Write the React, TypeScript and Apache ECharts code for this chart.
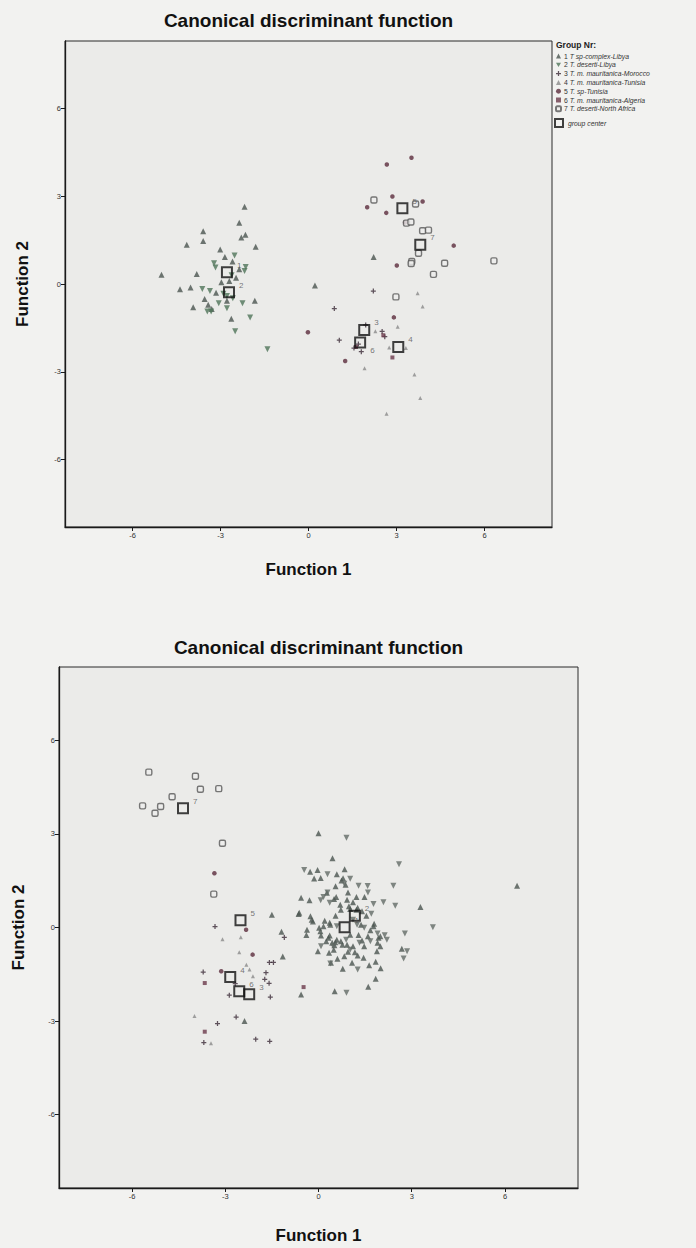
import React, { useEffect, useRef } from "react";
import * as echarts from "echarts";

// ---------- texts ----------
const TITLE = "Canonical discriminant function";
const X_NAME = "Function 1";
const Y_NAME = "Function 2";
const LEGEND_TITLE = "Group Nr:";
const GROUP_NAMES = [
  "1 T sp-complex-Libya",
  "2 T. deserti-Libya",
  "3 T. m. mauritanica-Morocco",
  "4 T. m. mauritanica-Tunisia",
  "5 T. sp-Tunisia",
  "6 T. m. mauritanica-Algeria",
  "7 T. deserti-North Africa",
];
const CENTER_NAME = "group center";
const CENTER_LABELS = ["1", "2", "3", "4", "5", "6", "7"];
const TICKS = [-6, -3, 0, 3, 6];

// ---------- top chart data ----------
const TOP_G1 = [
  [-2.18, 2.64], [-2.36, 2.09], [-3.59, 1.8], [-3.59, 1.47], [-4.15, 1.34], [-2.15, 1.68],
  [-2.29, 1.59], [-1.8, 1.27], [-3.01, 1.18], [-2.85, 0.92], [-2.59, 0.77], [-5.01, 0.32],
  [-3.81, 0.34], [-2.36, 0.5], [-2.97, 0.06], [-2.47, 0.21], [-4.38, -0.18], [-4.02, -0.12],
  [-3.15, -0.3], [-3.54, -0.51], [-3.93, -0.79], [-3.42, -0.71], [-2.78, -0.57], [-1.83, -0.57],
  [-2.63, -1.19], [0.22, -0.05], [2.22, 0.92], [-2.7, 0.1], [-3.3, -0.85],
];
const TOP_G2 = [
  [-3.22, 0.71], [-3.17, 0.56], [-2.52, 0.97], [-2.14, 0.58], [-2.18, 0.44], [-3.62, -0.17],
  [-3.36, -0.24], [-3.06, -0.66], [-2.78, -0.83], [-3.32, -0.94], [-3.45, -0.94], [-2.58, -0.49],
  [-2.25, -0.66], [-1.99, -1.14], [-2.5, -1.61], [-1.4, -2.23], [-2.9, -0.33], [-2.78, -0.41],
  [-2.62, 0.3],
];
const TOP_G3 = [
  [0.88, -0.84], [2.21, -0.24], [1.05, -1.92], [1.55, -2.19], [1.8, -2.31], [2.51, -1.62],
  [2.6, -1.8], [1.95, -1.4], [1.7, -2.05],
];
const TOP_G4 = [
  [2.28, -1.61], [3.04, -1.46], [3.32, -2.19], [2.75, -2.17], [3.72, -0.32], [3.89, -0.77],
  [3.61, -3.09], [3.81, -3.89], [2.66, -4.43], [1.91, -2.88],
];
const TOP_G5 = [
  [2.67, 4.08], [3.51, 4.31], [2.86, 2.99], [2.0, 2.62], [2.65, 2.43], [3.89, 2.82],
  [4.95, 1.31], [3.01, 0.63], [2.91, -1.14], [-0.02, -1.65], [1.25, -2.63], [3.29, 2.1],
];
const TOP_G6 = [[2.86, -2.51], [1.62, -2.15], [2.55, -1.75]];
const TOP_G7 = [
  [2.23, 2.87], [3.65, 2.73], [3.34, 2.08], [3.49, 2.12], [3.89, 1.82], [4.09, 1.84],
  [3.75, 1.05], [3.52, 0.77], [3.5, 0.7], [4.64, 0.71], [4.26, 0.33], [6.32, 0.79], [2.98, -0.44],
];
const TOP_CENTERS = [
  [-2.78, 0.4], [-2.71, -0.28], [1.9, -1.57], [3.06, -2.15], [3.2, 2.59], [1.76, -2.0], [3.81, 1.34],
];

// ---------- bottom chart data ----------
const BOT_G1 = [
  [0.0, 3.02], [0.45, 2.22], [0.84, 1.87], [-0.27, 1.79], [-0.03, 1.84], [-0.14, 1.57],
  [0.07, 1.59], [0.59, 1.71], [0.79, 1.58], [0.95, 1.12], [-0.56, 0.95], [-0.29, 0.87],
  [0.5, 0.91], [1.22, 0.98], [1.48, 0.98], [-0.64, 0.43], [3.28, 0.66], [-1.19, -0.14],
  [-0.39, -0.24], [-1.15, -0.93], [0.34, -0.81], [0.61, -1.0], [0.95, -0.78], [1.26, -0.9],
  [0.4, -1.13], [0.78, -1.32], [1.63, -1.21], [1.84, -1.1], [2.0, -1.31], [1.84, -1.64],
  [1.6, -1.9], [0.52, -2.04], [-0.56, -2.15], [1.29, -0.24], [1.4, -0.42], [1.59, -0.28],
  [1.93, -0.33], [2.68, -0.68], [0.2, 0.22], [0.38, 0.09], [-0.37, -0.07], [0.06, -0.12],
  [1.02, 0.59], [1.26, 0.63], [0.77, -0.55], [1.02, -0.23], [0.59, -0.39], [0.44, -0.49],
  [1.11, 0.81], [0.7, 0.73], [0.87, 1.37], [1.54, 0.38], [1.77, 0.04], [1.9, -0.49],
  [-0.02, -0.76], [-0.22, 0.25], [0.32, -0.33], [0.51, -0.57], [0.27, 1.11], [0.57, 0.98],
  [0.92, 0.89], [0.72, 0.57], [0.55, 0.38], [0.36, 0.15], [0.16, 0.04], [0.08, -0.26],
  [0.36, -0.26], [0.54, -0.47], [0.72, -0.44], [0.92, -0.55], [1.11, -0.6], [1.47, -0.6],
  [1.37, 0.09], [1.67, -0.09], [1.79, 0.12], [1.99, -0.28], [1.22, 0.57], [1.4, 0.52],
  [0.55, 1.32], [0.74, 1.51], [0.98, 0.68], [-0.26, 0.36], [-0.18, 0.19], [0.02, -0.01],
  [0.25, -0.44], [0.49, -0.71], [0.83, -0.92], [1.17, -0.79], [1.45, -0.97], [1.99, -0.6],
  [1.88, -0.76], [1.08, -1.13], [-1.5, 0.41], [-0.62, 0.47], [-2.38, -3.0], [6.39, 1.34],
];
const BOT_G2 = [
  [0.9, 2.88], [2.59, 2.03], [-0.46, 1.84], [0.29, 1.71], [1.02, 1.56], [1.29, 1.34],
  [1.58, 1.33], [1.59, 1.12], [2.41, 1.34], [0.07, 0.87], [1.77, 0.75], [2.47, 0.7],
  [2.09, 0.81], [1.7, 0.44], [3.68, 0.01], [2.78, -0.19], [2.13, -0.25], [0.9, -2.09],
  [2.85, -0.76], [0.29, 1.12], [1.24, 0.09], [1.47, -0.01], [0.47, -0.6], [0.83, 1.4],
  [0.16, 0.98], [0.36, 0.79], [1.11, 0.25], [0.59, 0.04], [0.89, -0.39], [1.32, -0.49],
  [0.08, -0.6], [1.67, -0.44], [1.9, -0.19], [2.2, -0.39], [1.02, -0.71], [0.38, -1.15],
  [1.26, -1.35], [2.74, -0.99],
];
const BOT_G3 = [
  [-3.33, 0.03], [-1.1, -0.32], [-1.58, -1.12], [-1.45, -1.12], [-3.71, -1.43], [-1.69, -1.45],
  [-1.73, -1.66], [-1.59, -1.79], [-2.87, -2.17], [-1.55, -2.23], [-2.65, -2.87], [-3.25, -3.08],
  [-2.02, -3.58], [-1.57, -3.65], [-3.69, -3.69], [-2.68, -1.8],
];
const BOT_G4 = [
  [-3.09, -0.38], [-2.5, -0.31], [-2.55, -0.79], [-2.32, -1.19], [-2.22, -1.35], [-2.11, -1.56],
  [-3.99, -2.84], [-3.46, -3.71],
];
const BOT_G5 = [[-3.35, 1.74], [-2.33, -0.07], [-3.13, -1.4], [-2.12, -0.87]];
const BOT_G6 = [[-3.66, -1.78], [-3.66, -3.34], [-0.48, -1.91]];
const BOT_G7 = [
  [-5.46, 4.98], [-3.96, 4.85], [-3.8, 4.43], [-3.21, 4.45], [-4.71, 4.19], [-5.66, 3.9],
  [-5.08, 3.88], [-5.26, 3.66], [-3.09, 2.7], [-3.37, 1.07],
];
const BOT_CENTERS = [
  [0.84, 0.01], [1.17, 0.38], [-2.23, -2.14], [-2.84, -1.59], [-2.51, 0.23], [-2.55, -2.04], [-4.36, 3.82],
];

const TOP_GROUPS = [TOP_G1, TOP_G2, TOP_G3, TOP_G4, TOP_G5, TOP_G6, TOP_G7];
const BOT_GROUPS = [BOT_G1, BOT_G2, BOT_G3, BOT_G4, BOT_G5, BOT_G6, BOT_G7];

// ---------- styles ----------
const FONT = "'Liberation Sans', Arial, Helvetica, sans-serif";
const PLUS = "path://M3,0H5V3H8V5H5V8H3V5H0V3H3Z";
const DOWN_TRI = "path://M0,0L10,0L5,8.7Z";
const STYLES = [
  { symbol: "triangle", size: 6, color: "#4b5550" },
  { symbol: DOWN_TRI, size: 6, color: "#4f7459" },
  { symbol: PLUS, size: 5, color: "#3b2a37" },
  { symbol: "triangle", size: 4, color: "#8a8a8a" },
  { symbol: "circle", size: 4.5, color: "#5b2c3c" },
  { symbol: "rect", size: 4, color: "#6c3a4b" },
  { symbol: "roundRect", size: 6, color: "#eeeeec", border: "#575757" },
];

const PAGE_BG = "#f2f2f0";
const PLOT_BG = "#ebebe9";

const GRIDS = [
  { left: 65, top: 41, width: 487, height: 486, range: 8.3, nameGapX: 34, nameGapY: 34.5 },
  { left: 59, top: 667, width: 519, height: 521, range: 8.35, nameGapX: 38.5, nameGapY: 32.5 },
];

function buildOption() {
  const grid = GRIDS.map((g) => ({
    left: g.left,
    top: g.top,
    width: g.width,
    height: g.height,
    show: true,
    backgroundColor: PLOT_BG,
    borderColor: "#2a2a2a",
    borderWidth: 1,
  }));
  const axisCommon = (g: any, isX: boolean, i: number) => ({
    type: "value",
    gridIndex: i,
    min: -g.range,
    max: g.range,
    splitLine: { show: false },
    axisLine: { show: true, onZero: false, lineStyle: { color: "#1a1a1a", width: 1.3 } },
    axisTick: { show: true, customValues: TICKS, length: 4, lineStyle: { color: "#1a1a1a", width: 1 } },
    axisLabel: { customValues: TICKS, fontSize: 7.5, color: "#333", fontFamily: FONT, margin: 4 },
    name: isX ? X_NAME : Y_NAME,
    nameLocation: "middle",
    nameGap: isX ? g.nameGapX : g.nameGapY,
    nameRotate: isX ? 0 : 90,
    nameTextStyle: { fontSize: 17, fontWeight: "bold", color: "#111", fontFamily: FONT },
  });
  const xAxis = GRIDS.map((g, i) => axisCommon(g, true, i));
  const yAxis = GRIDS.map((g, i) => axisCommon(g, false, i));

  const series: any[] = [];
  [TOP_GROUPS, BOT_GROUPS].forEach((groups, ci) => {
    groups.forEach((data, gi) => {
      const st: any = STYLES[gi];
      let color = st.color;
      if (ci === 1 && gi === 1) color = "#636b66";
      series.push({
        type: "scatter",
        name: GROUP_NAMES[gi],
        xAxisIndex: ci,
        yAxisIndex: ci,
        symbol: st.symbol,
        symbolSize: st.size,
        itemStyle: st.border
          ? { color: st.color, borderColor: st.border, borderWidth: 1.4 }
          : { color },
        data,
        z: 2,
      });
    });
    const centers = ci === 0 ? TOP_CENTERS : BOT_CENTERS;
    series.push({
      type: "scatter",
      name: CENTER_NAME,
      xAxisIndex: ci,
      yAxisIndex: ci,
      symbol: "rect",
      symbolSize: 10,
      z: 5,
      itemStyle: { color: "rgba(0,0,0,0)", borderColor: "#111", borderWidth: 2 },
      label: {
        show: true,
        position: "right",
        offset: [-1, -7],
        fontSize: 8,
        color: "#555",
        fontFamily: FONT,
        formatter: (p: any) => CENTER_LABELS[p.dataIndex],
      },
      data: centers.map((v, i) =>
        ci === 0 && i === 5 ? { value: v, label: { offset: [-1, 8] } } : v
      ),
    });
  });

  const graphic = [
    {
      type: "text",
      x: GRIDS[0].left + GRIDS[0].width / 2,
      y: 20,
      style: { text: TITLE, font: `bold 19px ${FONT}`, fill: "#111", textAlign: "center", textVerticalAlign: "middle" },
    },
    {
      type: "text",
      x: GRIDS[1].left + GRIDS[1].width / 2,
      y: 647,
      style: { text: TITLE, font: `bold 19px ${FONT}`, fill: "#111", textAlign: "center", textVerticalAlign: "middle" },
    },
    {
      type: "text",
      x: 556,
      y: 45,
      style: { text: LEGEND_TITLE, font: `bold 8.5px ${FONT}`, fill: "#222", textAlign: "left", textVerticalAlign: "middle" },
    },
  ];

  return {
    animation: false,
    backgroundColor: PAGE_BG,
    textStyle: { fontFamily: FONT },
    grid,
    xAxis,
    yAxis,
    graphic,
    legend: [
      {
        orient: "vertical",
        left: 555,
        top: 51.6,
        padding: 0,
        itemWidth: 5,
        itemHeight: 5,
        itemGap: 0,
        selectedMode: false,
        data: GROUP_NAMES,
        formatter: (name: string) => {
          const sp = name.indexOf(" ");
          return `{n|${name.slice(0, sp)}} {i|${name.slice(sp + 1)}}`;
        },
        textStyle: {
          fontSize: 6.8,
          lineHeight: 8.8,
          color: "#333",
          fontFamily: FONT,
          padding: [0, 0, 0, -2],
          rich: {
            n: { fontSize: 6.8, lineHeight: 8.8, color: "#333", fontFamily: FONT },
            i: { fontSize: 6.8, lineHeight: 8.8, fontStyle: "italic", color: "#333", fontFamily: FONT },
          },
        },
      },
      {
        orient: "vertical",
        left: 554,
        top: 118,
        padding: 0,
        itemWidth: 8,
        itemHeight: 8,
        selectedMode: false,
        data: [CENTER_NAME],
        textStyle: { fontSize: 6.8, fontStyle: "italic", color: "#333", fontFamily: FONT },
      },
    ],
    series,
  };
}

export default function App() {
  const ref = useRef<HTMLDivElement>(null);
  useEffect(() => {
    if (!ref.current) return;
    const chart = echarts.init(ref.current, undefined, { renderer: "svg" });
    chart.setOption(buildOption() as any);
    return () => chart.dispose();
  }, []);
  return (
    <div
      ref={ref}
      style={{ position: "absolute", left: 0, top: 0, width: 696, height: 1248, background: PAGE_BG }}
    />
  );
}
